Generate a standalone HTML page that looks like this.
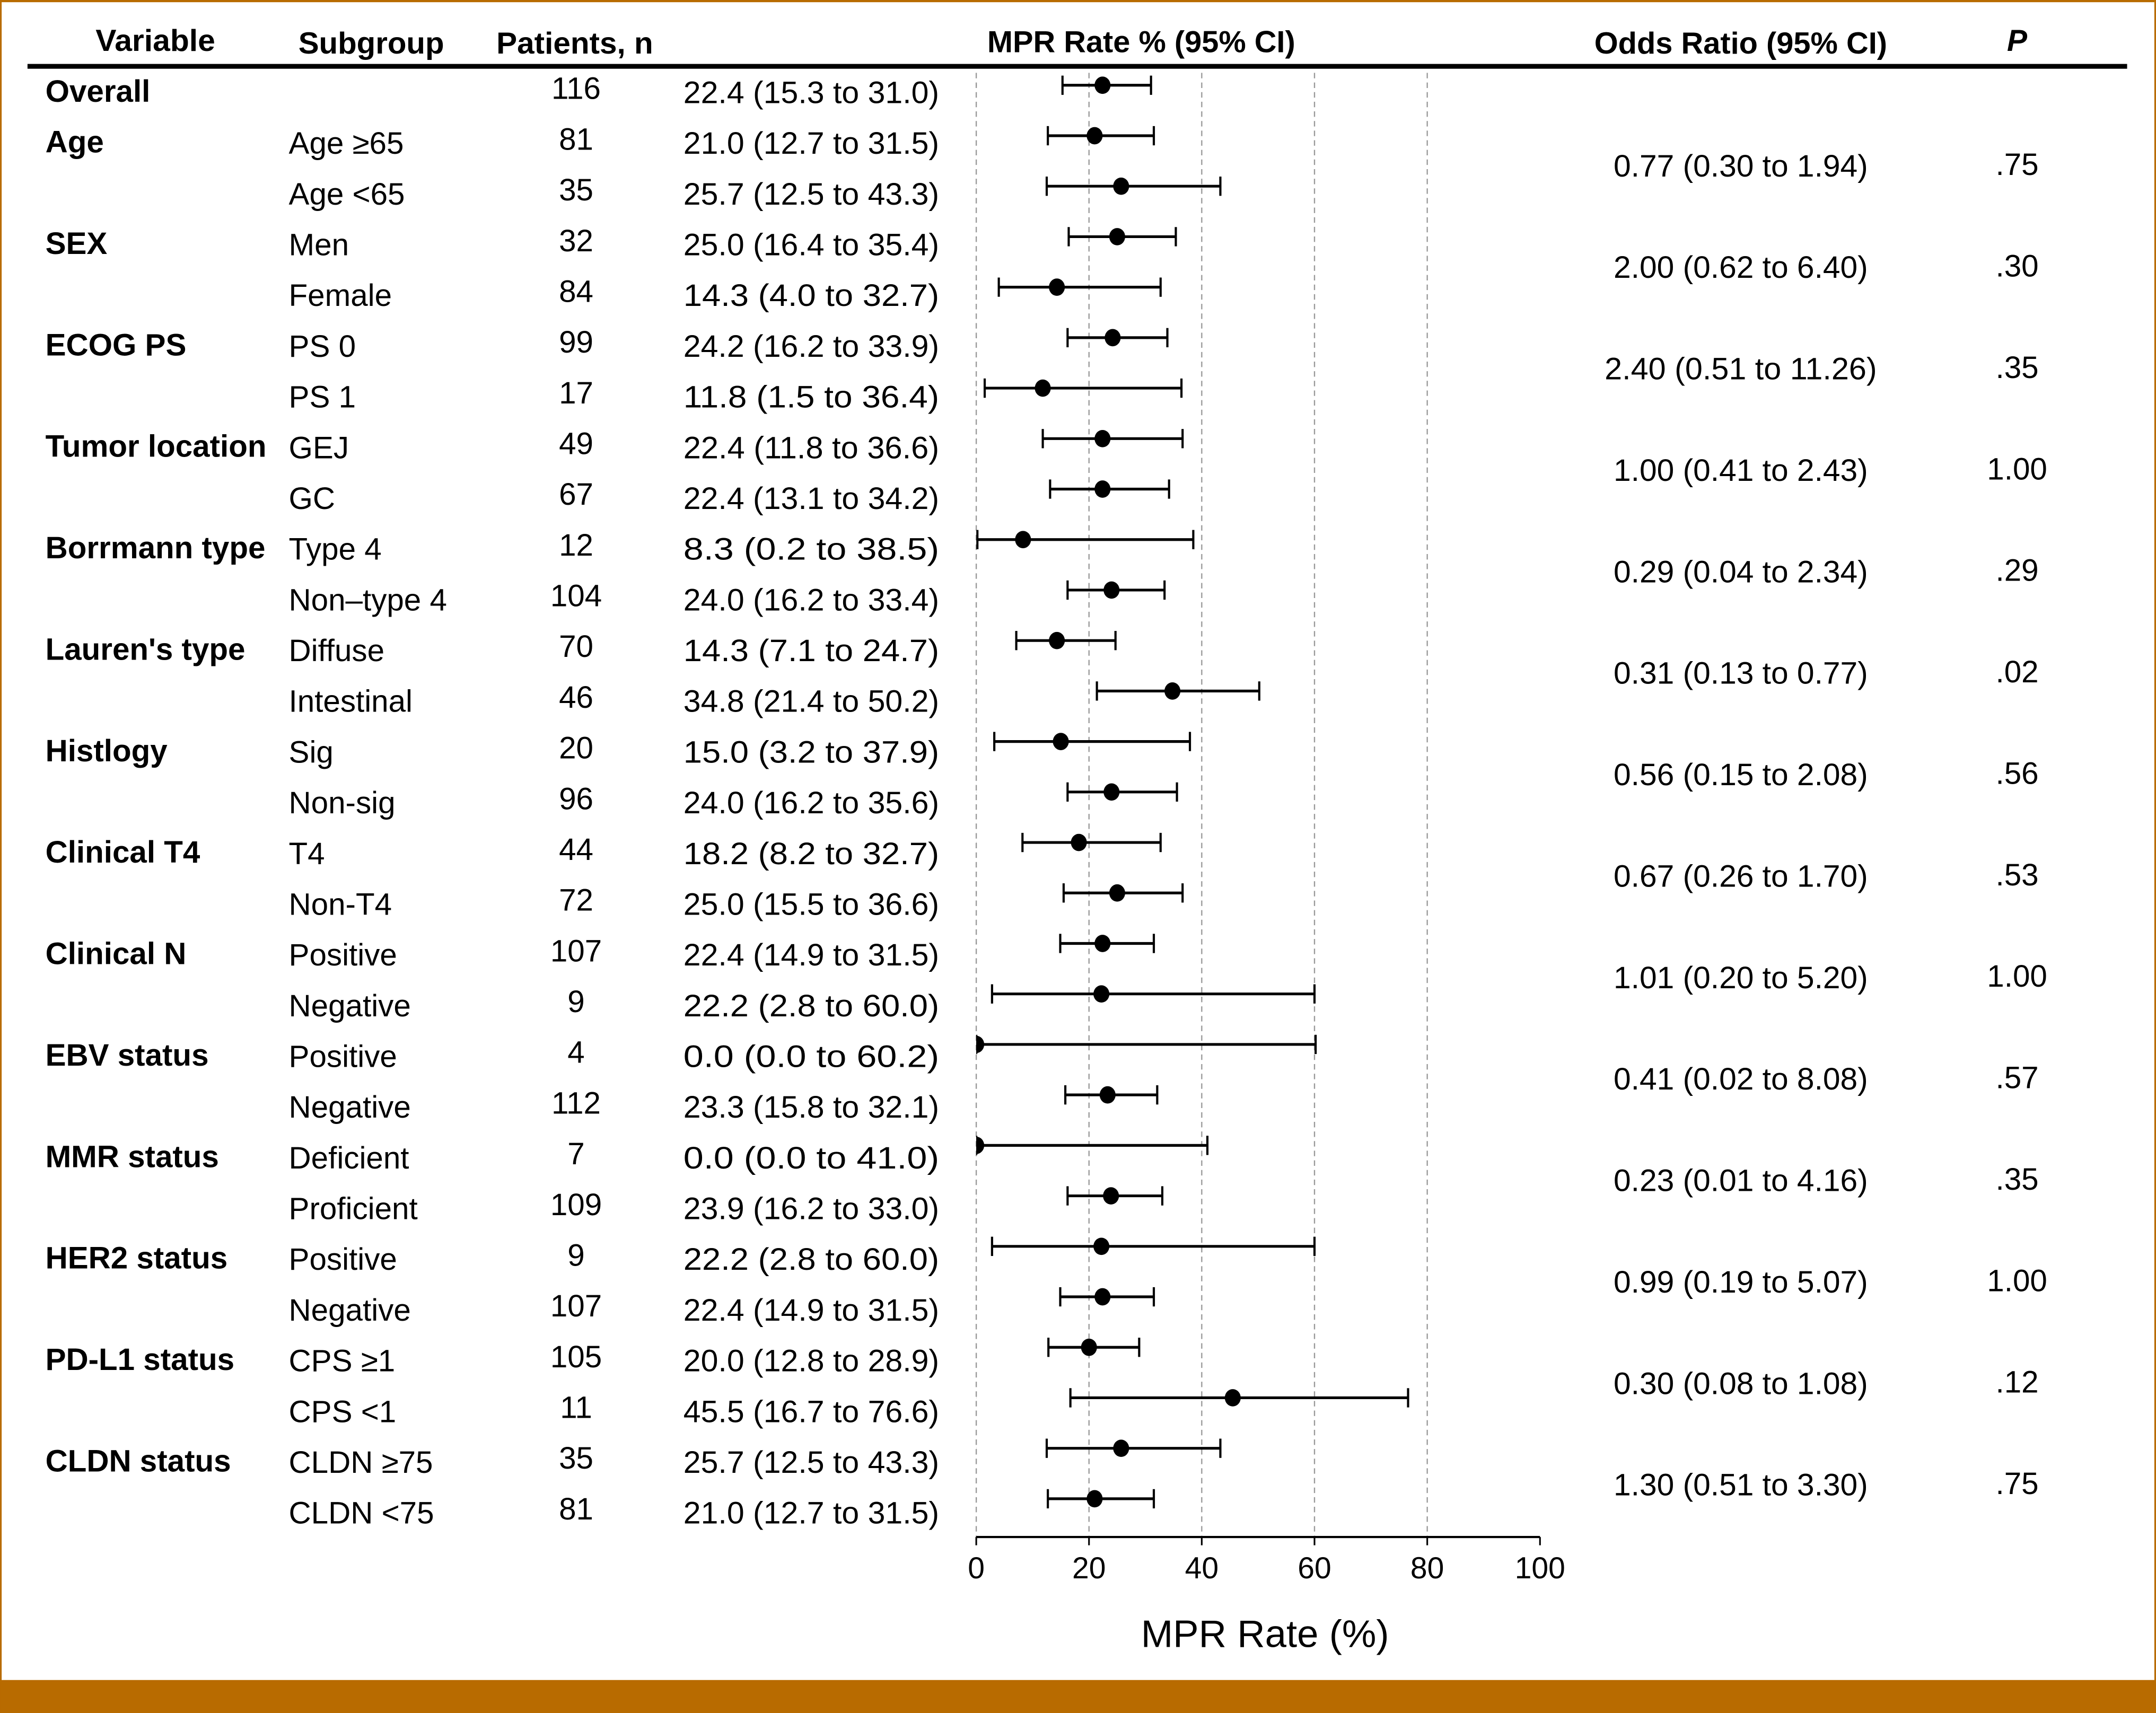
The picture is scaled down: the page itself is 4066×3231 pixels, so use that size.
<!DOCTYPE html>
<html><head><meta charset="utf-8"><style>
html,body{margin:0;padding:0;background:#fff}
svg{display:block}
text{font-family:"Liberation Sans",Arial,sans-serif;fill:#000}
</style></head><body>
<svg id="chart" width="4066" height="3231" viewBox="0 0 1568 1246" xmlns="http://www.w3.org/2000/svg">
<rect x="0" y="0" width="1568" height="1246" fill="#fff"/>
<rect x="0" y="0" width="1568" height="1.6" fill="#b86b00"/>
<rect x="0" y="0" width="1.2" height="1246" fill="#b86b00"/>
<rect x="1566.8" y="0" width="1.2" height="1246" fill="#b86b00"/>
<rect x="0" y="1222" width="1568" height="24" fill="#b86b00"/>
<g font-weight="bold" font-size="22">
<text x="113" y="37" text-anchor="middle" textLength="87" lengthAdjust="spacingAndGlyphs">Variable</text>
<text x="270" y="39" text-anchor="middle" textLength="106" lengthAdjust="spacingAndGlyphs">Subgroup</text>
<text x="418" y="39" text-anchor="middle" textLength="114" lengthAdjust="spacingAndGlyphs">Patients, n</text>
<text x="830" y="38" text-anchor="middle" textLength="224" lengthAdjust="spacingAndGlyphs">MPR Rate % (95% CI)</text>
<text x="1266" y="39" text-anchor="middle" textLength="213" lengthAdjust="spacingAndGlyphs">Odds Ratio (95% CI)</text>
<text x="1467" y="37" text-anchor="middle" font-style="italic">P</text>
</g>
<rect x="20" y="46.5" width="1527" height="3.5" fill="#000"/>
<g id="grid"></g>
<g id="rows"></g>
<g id="marks"></g>
<g id="axis"></g>
<g id="ors"></g>
<text x="920" y="1198" text-anchor="middle" font-size="28">MPR Rate (%)</text>
</svg>
<script>
const variables = ["Overall","Age","","SEX","","ECOG PS","","Tumor location","","Borrmann type","","Lauren's type","","Histlogy","","Clinical T4","","Clinical N","","EBV status","","MMR status","","HER2 status","","PD-L1 status","","CLDN status",""];
const subgroups = ["","Age \u226565","Age <65","Men","Female","PS 0","PS 1","GEJ","GC","Type 4","Non\u2013type 4","Diffuse","Intestinal","Sig","Non-sig","T4","Non-T4","Positive","Negative","Positive","Negative","Deficient","Proficient","Positive","Negative","CPS \u22651","CPS <1","CLDN \u226575","CLDN <75"];
const patients = [116,81,35,32,84,99,17,49,67,12,104,70,46,20,96,44,72,107,9,4,112,7,109,9,107,105,11,35,81];
const rates = [22.4,21.0,25.7,25.0,14.3,24.2,11.8,22.4,22.4,8.3,24.0,14.3,34.8,15.0,24.0,18.2,25.0,22.4,22.2,0.0,23.3,0.0,23.9,22.2,22.4,20.0,45.5,25.7,21.0];
const lows = [15.3,12.7,12.5,16.4,4.0,16.2,1.5,11.8,13.1,0.2,16.2,7.1,21.4,3.2,16.2,8.2,15.5,14.9,2.8,0.0,15.8,0.0,16.2,2.8,14.9,12.8,16.7,12.5,12.7];
const highs = [31.0,31.5,43.3,35.4,32.7,33.9,36.4,36.6,34.2,38.5,33.4,24.7,50.2,37.9,35.6,32.7,36.6,31.5,60.0,60.2,32.1,41.0,33.0,60.0,31.5,28.9,76.6,43.3,31.5];
const oddsRatios = ["0.77 (0.30 to 1.94)","2.00 (0.62 to 6.40)","2.40 (0.51 to 11.26)","1.00 (0.41 to 2.43)","0.29 (0.04 to 2.34)","0.31 (0.13 to 0.77)","0.56 (0.15 to 2.08)","0.67 (0.26 to 1.70)","1.01 (0.20 to 5.20)","0.41 (0.02 to 8.08)","0.23 (0.01 to 4.16)","0.99 (0.19 to 5.07)","0.30 (0.08 to 1.08)","1.30 (0.51 to 3.30)"];
const pValues = [".75",".30",".35","1.00",".29",".02",".56",".53","1.00",".57",".35","1.00",".12",".75"];
const xTicks = [0,20,40,60,80,100];

const NS = "http://www.w3.org/2000/svg";
function xs(v){ return 710 + v * 4.1; }
function dotY(i){ return 62 + i * 36.72; }
function textY(i){ return 74 + i * 36.9; }
function mk(tag, attrs, parent){ const e=document.createElementNS(NS,tag); for(const k in attrs) e.setAttribute(k,attrs[k]); parent.appendChild(e); return e; }

const grid=document.getElementById('grid'), rowsG=document.getElementById('rows'), marks=document.getElementById('marks'), axis=document.getElementById('axis'), ors=document.getElementById('ors');

xTicks.forEach(t=>{
  if(t===100) return;
  const l=mk('line',{x1:xs(t),x2:xs(t),y1:53,y2:1118,stroke:'#999','stroke-width':0.9,'stroke-dasharray':'4 3'},grid);
  
  
});

const clip=mk('clipPath',{id:'plotclip'},document.getElementById('chart'));
mk('rect',{x:xs(0),y:40,width:xs(100)-xs(0)+10,height:1100},clip);

variables.forEach((v,i)=>{
  const ty=textY(i);
  if(v){
    const t=mk('text',{x:33,y:ty,'font-size':22.5,'font-weight':'bold'},rowsG); t.textContent=v;
    
    
  }
  if(subgroups[i]){
    const t=mk('text',{x:210,y:ty+1,'font-size':22.5},rowsG); t.textContent=subgroups[i];
    
    
  }
  const n=mk('text',{x:419,y:ty-2,'font-size':22.5,'text-anchor':'middle'},rowsG); n.textContent=patients[i];
  
  
  const ci=mk('text',{x:497,y:ty+1,'font-size':22.5,textLength:186,lengthAdjust:'spacingAndGlyphs'},rowsG);
  ci.textContent=rates[i].toFixed(1)+' ('+lows[i].toFixed(1)+' to '+highs[i].toFixed(1)+')';
  
  

  const y=dotY(i);
  const g=mk('g',{'clip-path':'url(#plotclip)'},marks);
  
  
  mk('line',{x1:xs(0)-2,x2:xs(0),y1:y,y2:y,stroke:'#000','stroke-width':1.5},g);
  mk('line',{x1:xs(lows[i]),x2:xs(highs[i]),y1:y,y2:y,stroke:'#000','stroke-width':2},g);
  mk('line',{x1:xs(lows[i]),x2:xs(lows[i]),y1:y-7,y2:y+7,stroke:'#000','stroke-width':1.6},g);
  mk('line',{x1:xs(highs[i]),x2:xs(highs[i]),y1:y-7,y2:y+7,stroke:'#000','stroke-width':1.6},g);
  const d=mk('ellipse',{cx:xs(rates[i]),cy:y,rx:5.8,ry:6.3,fill:'#000'},g);
  
  
});

const al=mk('line',{x1:xs(0),x2:xs(100),y1:1118,y2:1118,stroke:'#000','stroke-width':1.6},axis);


xTicks.forEach(t=>{
  mk('line',{x1:xs(t),x2:xs(t),y1:1118,y2:1124,stroke:'#000','stroke-width':1.2},axis);
  const lb=mk('text',{x:xs(t),y:1148,'font-size':22,'text-anchor':'middle'},axis); lb.textContent=t;
  
  
});

oddsRatios.forEach((o,k)=>{
  const y=(textY(2*k+1)+textY(2*k+2))/2 - 1;
  const t=mk('text',{x:1266,y:y,'font-size':22.5,'text-anchor':'middle',textLength:(o.length>19?198:185),lengthAdjust:'spacingAndGlyphs'},ors); t.textContent=o;
  
  
  const p=mk('text',{x:1467,y:y-1,'font-size':22.5,'text-anchor':'middle'},ors); p.textContent=pValues[k];
  
  
});
</script>
</body></html>
